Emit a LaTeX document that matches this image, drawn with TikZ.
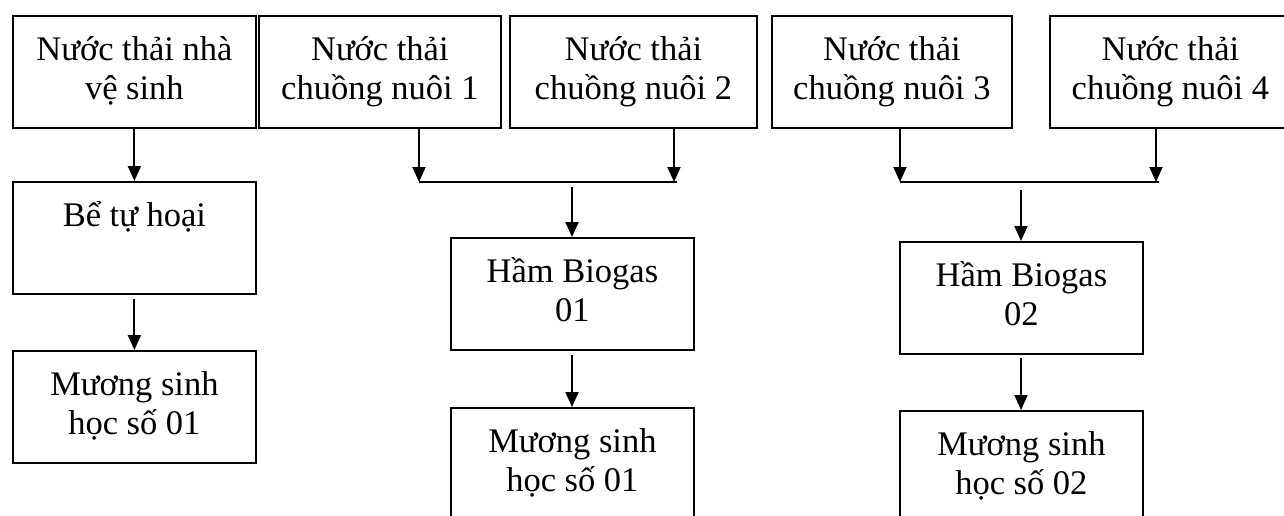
\documentclass[tikz,border=0pt]{standalone}
\usepackage{fontspec}
\setmainfont{Liberation Serif}
\usetikzlibrary{arrows.meta}
\begin{document}
\begin{tikzpicture}[x=1pt,y=-1pt,
  box/.style={draw, line width=1.8pt, inner sep=0pt, align=center,
    font=\fontsize{34.5}{39}\selectfont, anchor=north west,
    minimum height=112pt},
  arr/.style={line width=1.9pt, -{Triangle[width=13pt,length=15pt]}},
  ln/.style={line width=1.9pt}]
\useasboundingbox (0,0) rectangle (1284,515);
% top row
\node[box, minimum width=243pt] (A) at (12,15) {\strut Nước thải nhà\\\strut vệ sinh};
\node[box, minimum width=242pt] (B) at (258,15) {\strut Nước thải\\\strut chuồng nuôi 1};
\node[box, minimum width=247pt] (C) at (509,15) {\strut Nước thải\\\strut chuồng nuôi 2};
\node[box, minimum width=240pt] (D) at (771,15) {\strut Nước thải\\\strut chuồng nuôi 3};
\node[box, minimum width=241pt] (E) at (1049,15) {\strut Nước thải\\\strut chuồng nuôi 4};
% left column
\node[box, minimum width=243pt] (T) at (12,181) {\strut Bể tự hoại\\\strut};
\node[box, minimum width=243pt] (M1) at (12,350) {\strut Mương sinh\\\strut học số 01};
% middle column
\node[box, minimum width=243pt] (H1) at (450,237) {\strut Hầm Biogas\\\strut 01};
\node[box, minimum width=243pt] (M2) at (450,407) {\strut Mương sinh\\\strut học số 01};
% right column
\node[box, minimum width=243pt] (H2) at (899,241) {\strut Hầm Biogas\\\strut 02};
\node[box, minimum width=243pt] (M3) at (899,410) {\strut Mương sinh\\\strut học số 02};
% junction coordinates
\coordinate (jb) at (419,182);
\coordinate (jc) at (674,182);
\coordinate (jc2) at (677,182);
\coordinate (s1) at (572,187);
\coordinate (jd) at (900,182);
\coordinate (je) at (1156,182);
\coordinate (je2) at (1159,182);
\coordinate (s2) at (1021,190);
% connectors
\draw[arr] (A.south) -- (T.north);
\draw[arr] ([yshift=-4pt]T.south) -- (M1.north);
\draw[arr] (B.south -| jb) -- (jb);
\draw[arr] (C.south -| jc) -- (jc);
\draw[ln] (jb) -- (jc2);
\draw[arr] (s1) -- (H1.north -| s1);
\draw[arr] ([yshift=-4pt]H1.south -| s1) -- (M2.north -| s1);
\draw[arr] (D.south -| jd) -- (jd);
\draw[arr] (E.south -| je) -- (je);
\draw[ln] (jd) -- (je2);
\draw[arr] (s2) -- (H2.north -| s2);
\draw[arr] ([yshift=-3pt]H2.south -| s2) -- (M3.north -| s2);
\end{tikzpicture}
\end{document}
